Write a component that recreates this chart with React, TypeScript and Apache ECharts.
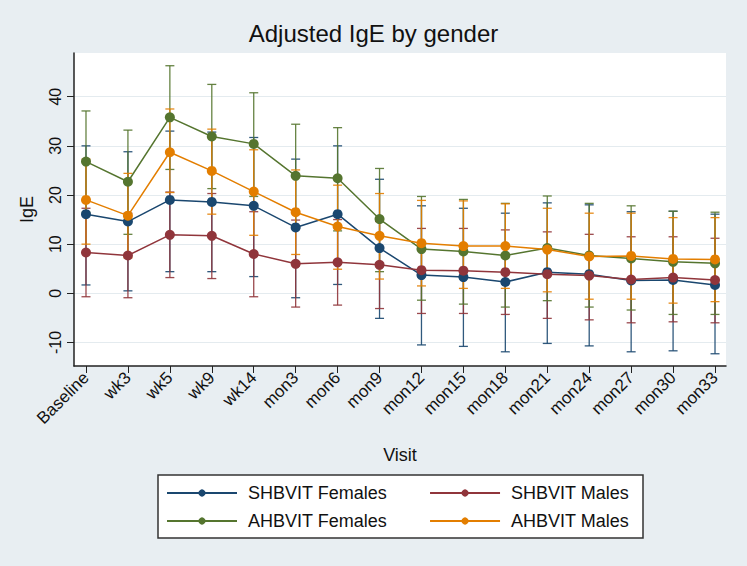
import React, { useEffect, useRef } from "react";
import * as echarts from "echarts";

const categories = ["Baseline", "wk3", "wk5", "wk9", "wk14", "mon3", "mon6", "mon9", "mon12", "mon15", "mon18", "mon21", "mon24", "mon27", "mon30", "mon33"];
const yTickValues = [-10, 0, 10, 20, 30, 40];

const shbFemalesMean = [16.1, 14.6, 19.0, 18.6, 17.8, 13.4, 16.1, 9.2, 3.7, 3.3, 2.3, 4.3, 3.9, 2.6, 2.7, 1.7];
const shbFemalesLow = [1.7, 0.5, 4.4, 4.4, 3.4, -0.9, 1.8, -5.1, -10.5, -10.8, -11.9, -10.2, -10.7, -11.9, -11.7, -12.3];
const shbFemalesHigh = [30.0, 28.8, 33.0, 32.8, 31.7, 27.3, 30.0, 23.2, 17.8, 17.3, 16.3, 18.4, 18.0, 16.6, 16.7, 16.1];

const shbMalesMean = [8.3, 7.7, 11.9, 11.7, 8.0, 6.0, 6.3, 5.8, 4.7, 4.6, 4.3, 3.9, 3.6, 2.8, 3.2, 2.7];
const shbMalesLow = [-0.7, -0.9, 3.2, 3.0, -0.7, -2.8, -2.4, -3.1, -4.1, -4.1, -4.3, -5.1, -5.4, -6.0, -5.8, -6.0];
const shbMalesHigh = [17.3, 16.3, 20.6, 20.3, 16.6, 14.9, 15.0, 14.6, 13.2, 13.2, 12.9, 12.5, 12.0, 11.5, 11.5, 11.2];

const ahbFemalesMean = [26.8, 22.7, 35.8, 31.9, 30.4, 23.9, 23.4, 15.1, 9.0, 8.5, 7.7, 9.2, 7.7, 7.1, 6.4, 6.1];
const ahbFemalesLow = [16.5, 12.0, 25.2, 21.3, 19.7, 13.3, 12.7, 4.4, -1.4, -2.2, -2.8, -1.5, -2.8, -3.4, -4.3, -4.3];
const ahbFemalesHigh = [37.1, 33.2, 46.3, 42.5, 40.8, 34.4, 33.7, 25.4, 19.7, 19.1, 18.3, 19.8, 18.3, 17.8, 16.7, 16.5];

const ahbMalesMean = [19.0, 15.8, 28.7, 24.9, 20.7, 16.5, 13.6, 11.7, 10.2, 9.6, 9.6, 8.9, 7.5, 7.6, 7.0, 6.9];
const ahbMalesLow = [10.0, 7.2, 20.5, 16.1, 11.8, 7.9, 4.9, 2.9, 1.5, 1.0, 1.0, 0.3, -1.2, -1.2, -2.0, -1.7];
const ahbMalesHigh = [27.3, 24.4, 37.5, 33.4, 29.2, 25.1, 22.0, 20.3, 18.9, 18.8, 18.2, 17.3, 16.3, 16.3, 15.4, 15.4];

const groups = [
  { name: "SHBVIT Females", color: "#1a476f", mean: shbFemalesMean, low: shbFemalesLow, high: shbFemalesHigh },
  { name: "SHBVIT Males", color: "#90353b", mean: shbMalesMean, low: shbMalesLow, high: shbMalesHigh },
  { name: "AHBVIT Females", color: "#55752f", mean: ahbFemalesMean, low: ahbFemalesLow, high: ahbFemalesHigh },
  { name: "AHBVIT Males", color: "#e37e00", mean: ahbMalesMean, low: ahbMalesLow, high: ahbMalesHigh },
];

const FONT = 'Arial, "Liberation Sans", sans-serif';

export default function App() {
  const ref = useRef<HTMLDivElement>(null);

  useEffect(() => {
    if (!ref.current) return;
    const chart = echarts.init(ref.current, null, { renderer: "svg" });

    const ciSeries = groups.map((g, gi) => ({
      type: "custom",
      name: "ci" + gi,
      z: 1,
      clip: false,
      silent: true,
      encode: { x: 0, y: [1, 2] },
      data: categories.map((_, i) => [i, g.low[i], g.high[i]]),
      renderItem: (params: any, api: any) => {
        const x = api.value(0);
        const lo = api.coord([x, api.value(1)]);
        const hi = api.coord([x, api.value(2)]);
        const w = 4.5;
        const style = { stroke: g.color, lineWidth: 1.3, opacity: 0.9 };
        return {
          type: "group",
          children: [
            { type: "line", shape: { x1: lo[0], y1: lo[1], x2: hi[0], y2: hi[1] }, style },
            { type: "line", shape: { x1: lo[0] - w, y1: lo[1], x2: lo[0] + w, y2: lo[1] }, style },
            { type: "line", shape: { x1: hi[0] - w, y1: hi[1], x2: hi[0] + w, y2: hi[1] }, style },
          ],
        };
      },
    }));

    const lineSeries = groups.map((g) => ({
      type: "line",
      name: g.name,
      z: 3,
      data: categories.map((_, i) => [i, g.mean[i]]),
      symbol: "circle",
      symbolSize: 10,
      showSymbol: true,
      color: g.color,
      itemStyle: { color: g.color },
      lineStyle: { color: g.color, width: 1.5 },
    }));

    const legendBase = {
      left: 166,
      orient: "horizontal",
      itemGap: 42,
      itemWidth: 70,
      itemHeight: 9,
      padding: 0,
      selectedMode: false,
      textStyle: { fontSize: 18, color: "#111", fontFamily: FONT, padding: [0, 0, 0, 6] },
    };

    chart.setOption({
      animation: false,
      backgroundColor: "#e8eef2",
      textStyle: { fontFamily: FONT },
      title: {
        text: "Adjusted IgE by gender",
        left: "center",
        top: 21,
        padding: 0,
        textStyle: { fontSize: 24, fontWeight: "normal", color: "#111", fontFamily: FONT },
      },
      grid: {
        left: 74,
        right: 21,
        top: 53,
        bottom: 200,
        show: true,
        backgroundColor: "#ffffff",
        borderWidth: 0,
      },
      xAxis: {
        type: "value",
        min: -0.286,
        max: 15.262,
        name: "Visit",
        nameLocation: "middle",
        nameGap: 80,
        nameTextStyle: { fontSize: 18, color: "#111", fontFamily: FONT },
        axisLine: { show: true, onZero: false, lineStyle: { color: "#222", width: 1.5 } },
        axisTick: { show: true, length: 7, lineStyle: { color: "#222", width: 1 }, customValues: categories.map((_, i) => i) },
        axisLabel: {
          customValues: categories.map((_, i) => i),
          formatter: (v: number) => categories[Math.round(v)] ?? "",
          rotate: 45,
          fontSize: 17,
          color: "#111",
          margin: 9,
          fontFamily: FONT,
        },
        splitLine: { show: false },
      },
      yAxis: {
        type: "value",
        min: -14.79,
        max: 48.89,
        name: "IgE",
        nameLocation: "middle",
        nameGap: 38,
        nameRotate: 90,
        nameTextStyle: { fontSize: 18, color: "#111", fontFamily: FONT },
        axisLine: { show: true, onZero: false, lineStyle: { color: "#222", width: 1.5 } },
        axisTick: { show: true, length: 7, lineStyle: { color: "#222", width: 1 }, customValues: yTickValues },
        axisLabel: {
          customValues: yTickValues,
          rotate: 90,
          fontSize: 16,
          color: "#111",
          margin: 11,
          fontFamily: FONT,
        },
        splitLine: { show: true, lineStyle: { color: "#e4ebef", width: 1 } },
      },
      legend: [
        { ...legendBase, top: 484, data: ["SHBVIT Females", "SHBVIT Males"] },
        { ...legendBase, top: 512, data: ["AHBVIT Females", "AHBVIT Males"] },
      ],
      graphic: [
        {
          type: "rect",
          z: 0,
          shape: { x: 158, y: 475, width: 485, height: 63 },
          style: { fill: "#ffffff", stroke: "#333", lineWidth: 1.5 },
        },
      ],
      series: [...ciSeries, ...lineSeries],
    });

    return () => chart.dispose();
  }, []);

  return <div ref={ref} style={{ position: "fixed", left: 0, top: 0, width: 747, height: 566 }} />;
}
